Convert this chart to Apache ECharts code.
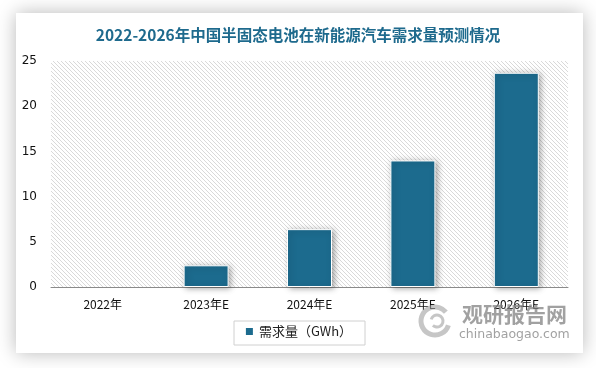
<!DOCTYPE html>
<html><head><meta charset="utf-8">
<script src="https://cdn.jsdelivr.net/npm/echarts@6/dist/echarts.min.js"></script>
<style>html,body{margin:0;padding:0;background:#fff}#c{width:596px;height:368px}</style>
</head><body><div id="c"></div>
<script>
var titleText = '2022-2026年中国半固态电池在新能源汽车需求量预测情况';
var categories = ['2022年', '2023年E', '2024年E', '2025年E', '2026年E'];
var seriesName = '需求量（GWh）';
var demandValues = [0, 2.4, 6.4, 14, 23.7];
var yTicks = [0, 5, 10, 15, 20, 25];

var pc = document.createElement('canvas');
pc.width = 4; pc.height = 4;
var px = pc.getContext('2d');
px.fillStyle = '#ffffff'; px.fillRect(0,0,4,4);
px.fillStyle = '#d9d9d9';
for (var i = 0; i < 4; i++) { px.fillRect(i, i, 1, 1); }

var barData = demandValues.map(function (v) {
  return v === 0 ? {value: v, itemStyle: {borderWidth: 0, shadowBlur: 0, shadowColor: 'transparent'}} : v;
});

var chart = echarts.init(document.getElementById('c'), null, {renderer: 'canvas'});
chart.setOption({
  animation: false,
  backgroundColor: '#ffffff',
  title: {
    text: titleText, left: 'center', top: 22,
    textStyle: {color: '#1e6a8d', fontSize: 15.5, fontWeight: 'bold', fontFamily: 'Noto Sans CJK SC'}
  },
  graphic: [
    {type: 'rect', z: -10, shape: {x: 16, y: 13, width: 567, height: 340},
     style: {fill: '#fff', shadowBlur: 18, shadowColor: 'rgba(0,0,0,0.28)', shadowOffsetX: 0, shadowOffsetY: 0}},
    {type: 'rect', z: 1, shape: {x: 234, y: 321, width: 131, height: 24}, style: {fill: 'none', stroke: '#d0d0d0', lineWidth: 1}},
    {type: 'arc', z: 5, shape: {cx: 435, cy: 321, r: 14, startAngle: 0.3, endAngle: 5.6}, style: {fill: 'none', stroke: 'rgba(160,160,160,0.6)', lineWidth: 5}},
    {type: 'arc', z: 5, shape: {cx: 437, cy: 321, r: 6, startAngle: 3.4, endAngle: 8.6}, style: {fill: 'none', stroke: 'rgba(160,160,160,0.6)', lineWidth: 3}},
    {type: 'text', z: 5, left: 462, top: 304, style: {text: '观研报告网', fill: 'rgba(130,130,130,0.75)', font: 'bold 21px "Noto Sans CJK SC"'}},
    {type: 'text', z: 5, left: 459, top: 328, style: {text: 'chinabaogao.com', fill: 'rgba(130,130,130,0.75)', font: '12.5px "DejaVu Sans"'}}
  ],
  grid: {left: 51, right: 28, top: 61, bottom: 81, show: true, borderWidth: 0,
         backgroundColor: {image: pc, repeat: 'repeat'}},
  legend: {
    bottom: 25, left: 'center', itemWidth: 9, itemHeight: 9, icon: 'rect',
    data: [seriesName],
    textStyle: {fontSize: 13, color: '#222', fontFamily: 'Noto Sans CJK SC'}
  },
  xAxis: {
    type: 'category', data: categories,
    axisLine: {lineStyle: {color: '#8a8a8a', width: 1}},
    axisTick: {show: false},
    axisLabel: {color: '#111', fontSize: 12, margin: 11, fontFamily: 'Noto Sans CJK SC'}
  },
  yAxis: {
    type: 'value', min: 0, max: 25, interval: 5,
    axisLine: {show: false}, axisTick: {show: false},
    splitLine: {show: false},
    axisLabel: {color: '#111', fontSize: 12, margin: 14, fontFamily: 'DejaVu Sans'}
  },
  series: [{
    name: seriesName, type: 'bar', data: barData, barWidth: 45,
    itemStyle: {color: '#1c6b8e', borderColor: '#ffffff', borderWidth: 1,
      shadowBlur: 6, shadowColor: 'rgba(0,0,0,0.35)', shadowOffsetX: 2, shadowOffsetY: 1}
  }]
});
</script></body></html>
